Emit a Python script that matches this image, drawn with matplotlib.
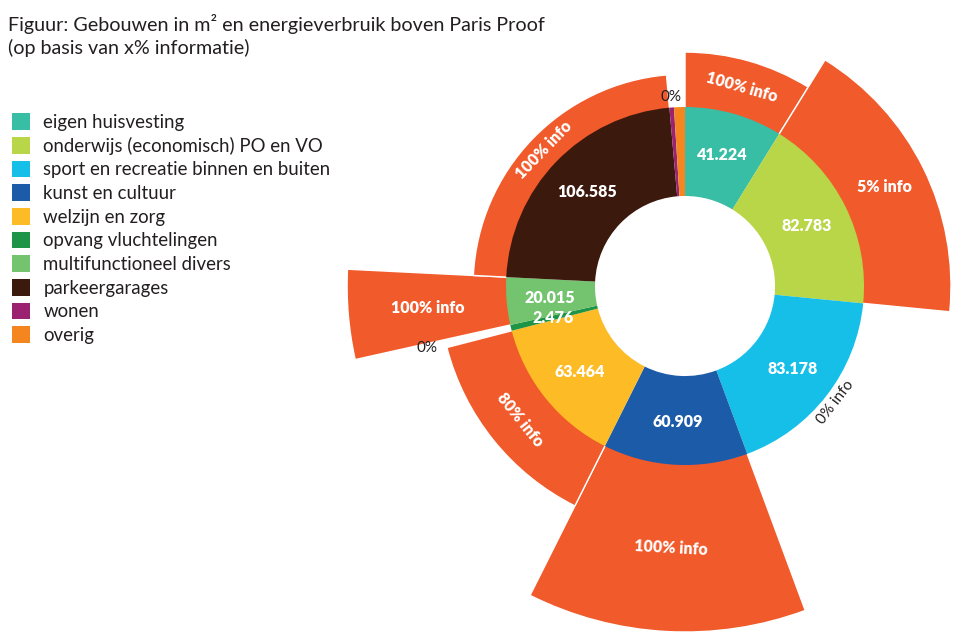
import numpy as np
import matplotlib
matplotlib.use("Agg")
import matplotlib.pyplot as plt
from matplotlib.patches import Patch

# categories and data (m2), outer extension of the "info" bars
categories = ["eigen huisvesting", "onderwijs (economisch) PO en VO",
              "sport en recreatie binnen en buiten", "kunst en cultuur",
              "welzijn en zorg", "opvang vluchtelingen",
              "multifunctioneel divers", "parkeergarages", "wonen", "overig"]
m2 = [41224, 82783, 83178, 60909, 63464, 2476, 20015, 106585, 1900, 4600]
show_value = [True, True, True, True, True, True, True, True, False, False]
info_ext = [0.307, 0.486, 0.0, 0.933, 0.374, 0.0, 0.888, 0.184, 0.0, 0.0]
info_text = ["100% info", "5% info", "0% info", "100% info", "80% info",
             "0%", "100% info", "100% info", "0%", ""]

colors = ["#38BEA5", "#B9D548", "#15BFE8", "#1C5BA8", "#FDBC26",
          "#1E9446", "#73C36F", "#3C190D", "#9B2270", "#F5861F"]
info_color = "#F15A2B"
dark = "#231F20"

# label layout: 'tan' = along the arc, 'h' = horizontal
info_rot = ["tan", "h", "tan", "tan", "tan", "h", "h", "tan", "h", "h"]
info_r_empty = [1.05, 1.05, 1.06, 1.05, 1.05, 1.48, 1.05, 1.05, 1.06, 1.05]

HOLE = 0.503

plt.rcParams['font.family'] = ['Lato', 'DejaVu Sans']

fig = plt.figure(figsize=(9.77, 6.41), dpi=100)
ax = fig.add_axes([0.3347, -0.0047, 0.7329, 1.117], projection="polar")
ax.set_theta_zero_location("N")
ax.set_theta_direction(-1)

vals = np.array(m2, dtype=float)
widths = vals / vals.sum() * 2 * np.pi
lefts = np.concatenate([[0], np.cumsum(widths)[:-1]])
mids = lefts + widths / 2

# outer info bars (start under the ring so only radial white edges remain)
ext = np.array(info_ext)
ax.bar(lefts, 1 - HOLE + ext, width=widths, bottom=HOLE, align="edge",
       color=[info_color if e > 0 else "none" for e in ext],
       edgecolor=["white" if e > 0 else "none" for e in ext],
       linewidth=1.0, zorder=1)
# ring
ax.bar(lefts, 1 - HOLE, width=widths, bottom=HOLE, align="edge",
       color=colors, linewidth=0, zorder=2)

def nice(n):
    return f"{n:,}".replace(",", ".")

for i, v in enumerate(m2):
    if show_value[i]:
        ax.text(mids[i], 0.76, nice(v), ha="center", va="center",
                color="white", fontsize=11.5, fontweight="heavy", zorder=3)

for i, t in enumerate(info_text):
    if not t:
        continue
    deg = np.degrees(mids[i])
    if info_rot[i] == "tan":
        rot = -deg
        while rot < -90:
            rot += 180
        while rot > 90:
            rot -= 180
    else:
        rot = 0
    if ext[i] > 0:
        ax.text(mids[i], 1 + ext[i] / 2, t, ha="center", va="center",
                rotation=rot, rotation_mode="anchor", color="white",
                fontsize=11.5, fontweight="heavy", zorder=3)
    else:
        ax.text(mids[i], info_r_empty[i], t, ha="center", va="center",
                rotation=rot, rotation_mode="anchor", color=dark,
                fontsize=11, zorder=3)

ax.set_ylim(0, 2.0)
ax.set_axis_off()

fig.text(0.008, 0.978, "Figuur: Gebouwen in m² en energieverbruik boven Paris Proof\n(op basis van x% informatie)",
         ha="left", va="top", fontsize=14.2, color=dark, linespacing=1.35)

handles = [Patch(facecolor=c, edgecolor="none") for c in colors]
fig.legend(handles, categories, loc="upper left",
           bbox_to_anchor=(0.012, 1 - 113 / 641), frameon=False,
           handlelength=1.0, handleheight=1.0,
           handletextpad=0.7, labelspacing=0.32, borderpad=0, borderaxespad=0,
           labelcolor=dark, prop={'size': 13.4})

fig.savefig("out.png", dpi=100)
